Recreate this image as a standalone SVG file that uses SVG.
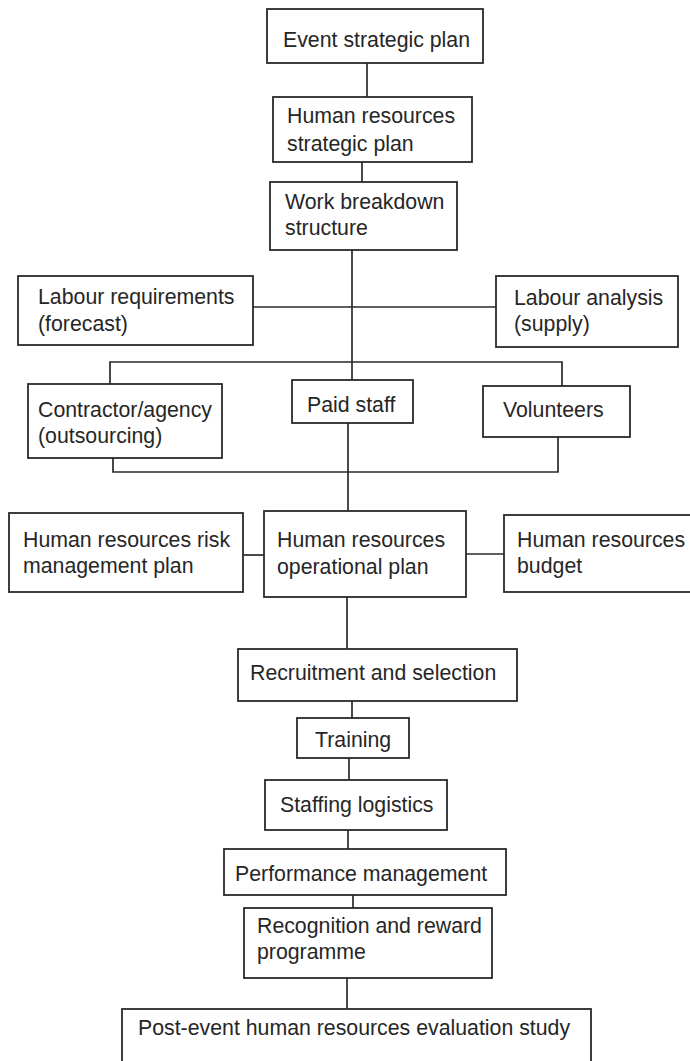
<svg xmlns="http://www.w3.org/2000/svg" width="690" height="1061" viewBox="0 0 690 1061">
<style>
rect{fill:#fff;stroke:#2a2a2a;stroke-width:1.8}
text{font-family:"Liberation Sans",Arial,sans-serif;font-size:21.3px;fill:#262626}
#connectors path{fill:none;stroke:#2a2a2a;stroke-width:1.7}
</style>
<rect x="0" y="0" width="690" height="1061" style="fill:#fff;stroke:none"/>
<g id="connectors">
<path d="M367 63V97"/>
<path d="M362 162V182"/>
<path d="M352 250V380"/>
<path d="M253 307H496"/>
<path d="M110 384V362H562V386"/>
<path d="M113 458V472H558V437"/>
<path d="M348 423V511"/>
<path d="M243 555H264"/>
<path d="M466 554H504"/>
<path d="M347 597V649"/>
<path d="M352 701V718"/>
<path d="M349 758V780"/>
<path d="M348 830V849"/>
<path d="M353 895V908"/>
<path d="M347 978V1009"/>
</g>
<g id="event-strategic-plan"><rect x="267" y="9" width="216" height="54"/><text x="283" y="47">Event strategic plan</text></g>
<g id="hr-strategic-plan"><rect x="273" y="97" width="199" height="65"/><text x="287" y="123">Human resources</text><text x="287" y="151">strategic plan</text></g>
<g id="work-breakdown"><rect x="270" y="182" width="187" height="68"/><text x="285" y="209">Work breakdown</text><text x="285" y="235">structure</text></g>
<g id="labour-requirements"><rect x="18" y="276" width="235" height="69"/><text x="38" y="304">Labour requirements</text><text x="38" y="331">(forecast)</text></g>
<g id="labour-analysis"><rect x="496" y="276" width="182" height="71"/><text x="514" y="305">Labour analysis</text><text x="514" y="331">(supply)</text></g>
<g id="contractor"><rect x="28" y="384" width="194" height="74"/><text x="38" y="417">Contractor/agency</text><text x="38" y="443">(outsourcing)</text></g>
<g id="paid-staff"><rect x="292" y="380" width="121" height="43"/><text x="307" y="412">Paid staff</text></g>
<g id="volunteers"><rect x="483" y="386" width="147" height="51"/><text x="503" y="417">Volunteers</text></g>
<g id="hr-risk"><rect x="9" y="513" width="234" height="79"/><text x="23" y="547">Human resources risk</text><text x="23" y="573">management plan</text></g>
<g id="hr-operational"><rect x="264" y="511" width="202" height="86"/><text x="277" y="547">Human resources</text><text x="277" y="574">operational plan</text></g>
<g id="hr-budget"><rect x="504" y="515" width="200" height="77"/><text x="517" y="547">Human resources</text><text x="517" y="573">budget</text></g>
<g id="recruitment"><rect x="238" y="649" width="279" height="52"/><text x="250" y="680">Recruitment and selection</text></g>
<g id="training"><rect x="297" y="718" width="112" height="40"/><text x="315" y="747">Training</text></g>
<g id="staffing"><rect x="265" y="780" width="182" height="50"/><text x="280" y="812">Staffing logistics</text></g>
<g id="performance"><rect x="224" y="849" width="282" height="46"/><text x="235" y="881">Performance management</text></g>
<g id="recognition"><rect x="244" y="908" width="248" height="70"/><text x="257" y="933">Recognition and reward</text><text x="257" y="959">programme</text></g>
<g id="post-event"><rect x="122" y="1009" width="469" height="70"/><text x="138" y="1035">Post-event human resources evaluation study</text></g>
</svg>
